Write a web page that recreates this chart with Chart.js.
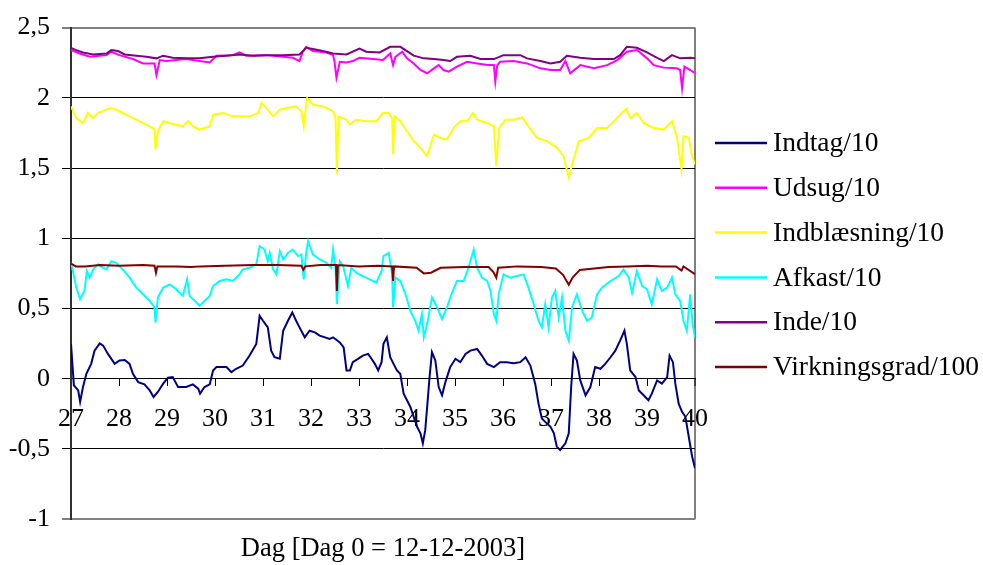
<!DOCTYPE html>
<html>
<head>
<meta charset="utf-8">
<script src="https://cdn.jsdelivr.net/npm/chart.js@4.4.1/dist/chart.umd.min.js"></script>
<style>
  html, body { margin: 0; padding: 0; background: #ffffff; }
  #wrap { width: 983px; height: 565px; }
</style>
</head>
<body>
<div id="wrap"><canvas id="c" width="983" height="565"></canvas></div>
<script>
// ---- tick labels ----
const xTickValues = [27, 28, 29, 30, 31, 32, 33, 34, 35, 36, 37, 38, 39, 40];
const xTickLabels = ['27', '28', '29', '30', '31', '32', '33', '34', '35', '36', '37', '38', '39', '40'];
const yTickValues = [-1, -0.5, 0, 0.5, 1, 1.5, 2, 2.5];
const yTickLabels = ['-1', '-0,5', '0', '0,5', '1', '1,5', '2', '2,5'];
const seriesNames = ['Indtag/10', 'Udsug/10', 'Indblæsning/10', 'Afkast/10', 'Inde/10', 'Virkningsgrad/100'];
const xTitle = 'Dag [Dag 0 = 12-12-2003]';

// ---- Indtag/10 ----
const indtagDays = [27.00,27.06,27.15,27.19,27.25,27.32,27.42,27.49,27.60,27.67,
  27.77,27.91,28.01,28.12,28.22,28.29,28.40,28.53,28.64,28.72,
  28.81,28.92,29.02,29.12,29.23,29.40,29.54,29.65,29.69,29.78,
  29.89,29.96,30.03,30.24,30.34,30.44,30.58,30.72,30.86,30.93,
  31.00,31.10,31.17,31.24,31.35,31.42,31.52,31.61,31.69,31.76,
  31.87,31.97,32.08,32.18,32.39,32.46,32.60,32.68,32.74,32.81,
  32.87,32.98,33.08,33.19,33.26,33.33,33.40,33.47,33.51,33.58,
  33.65,33.72,33.79,33.86,33.93,34.00,34.07,34.14,34.21,34.28,
  34.33,34.38,34.42,34.47,34.52,34.59,34.66,34.73,34.80,34.90,
  35.01,35.11,35.22,35.32,35.46,35.56,35.67,35.81,35.94,36.08,
  36.22,36.36,36.47,36.57,36.67,36.74,36.81,36.88,36.99,37.06,
  37.12,37.19,37.30,37.37,37.42,37.47,37.54,37.61,37.72,37.82,
  37.92,38.03,38.13,38.24,38.34,38.44,38.53,38.58,38.65,38.76,
  38.83,38.93,39.03,39.10,39.21,39.31,39.42,39.47,39.54,39.59,
  39.66,39.73,39.80,39.87,39.94,40.00];
const indtagVals = [0.248,-0.047,-0.083,-0.165,-0.059,0.035,0.106,0.2,0.252,0.236,
  0.177,0.106,0.13,0.134,0.106,0.035,-0.024,-0.04,-0.083,-0.13,
  -0.094,-0.035,0.007,0.012,-0.059,-0.059,-0.04,-0.071,-0.106,-0.059,
  -0.04,0.059,0.083,0.083,0.047,0.071,0.094,0.165,0.248,0.448,
  0.413,0.366,0.2,0.153,0.142,0.342,0.413,0.472,0.413,0.366,
  0.295,0.342,0.33,0.307,0.283,0.295,0.259,0.224,0.059,0.059,
  0.118,0.142,0.165,0.177,0.142,0.106,0.059,0.118,0.248,0.295,
  0.153,0.106,0.059,0.035,-0.106,-0.153,-0.201,-0.271,-0.342,-0.389,
  -0.46,-0.366,-0.2,0.012,0.189,0.13,-0.059,-0.118,-0.024,0.083,
  0.142,0.118,0.177,0.2,0.212,0.165,0.106,0.083,0.118,0.118,
  0.111,0.118,0.153,0.094,-0.035,-0.177,-0.283,-0.307,-0.342,-0.389,
  -0.483,-0.507,-0.46,-0.389,-0.059,0.177,0.13,-0.012,-0.118,-0.059,
  0.083,0.071,0.106,0.153,0.2,0.271,0.342,0.248,0.059,0.012,
  -0.083,-0.118,-0.153,-0.106,-0.012,-0.035,0.012,0.165,0.118,-0.035,
  -0.177,-0.236,-0.271,-0.413,-0.554,-0.637];

// ---- Udsug/10 ----
const udsugDays = [27.00,27.18,27.39,27.74,27.84,28.01,28.29,28.50,28.74,28.78,
  28.85,28.99,29.19,29.40,29.68,29.89,30.03,30.37,30.51,30.65,
  31.07,31.42,31.62,31.76,31.83,31.90,32.04,32.32,32.46,32.49,
  32.53,32.60,32.74,32.87,33.01,33.29,33.50,33.65,33.71,33.76,
  33.90,34.00,34.14,34.28,34.42,34.56,34.66,34.76,34.87,35.04,
  35.25,35.46,35.67,35.81,35.84,35.88,35.94,36.22,36.50,36.78,
  36.99,37.19,37.30,37.40,37.61,37.89,38.17,38.38,38.58,38.79,
  39.00,39.14,39.35,39.62,39.69,39.73,39.78,39.90,40.00];
const udsugVals = [2.34,2.316,2.292,2.304,2.328,2.304,2.276,2.245,2.245,2.163,
  2.269,2.262,2.269,2.276,2.262,2.252,2.3,2.304,2.323,2.3,
  2.304,2.292,2.285,2.262,2.328,2.363,2.333,2.323,2.304,2.257,
  2.144,2.257,2.252,2.262,2.285,2.276,2.269,2.316,2.233,2.292,
  2.328,2.281,2.245,2.198,2.175,2.21,2.233,2.198,2.186,2.222,
  2.257,2.245,2.233,2.233,2.116,2.233,2.257,2.262,2.245,2.21,
  2.198,2.198,2.262,2.175,2.233,2.21,2.233,2.269,2.328,2.34,
  2.281,2.233,2.215,2.21,2.198,2.068,2.222,2.198,2.175];

// ---- Indblæsning/10 ----
const indblDays = [27.00,27.11,27.25,27.35,27.46,27.56,27.81,27.94,28.15,28.43,
  28.64,28.74,28.76,28.81,28.92,29.12,29.33,29.44,29.54,29.68,
  29.89,29.96,30.17,30.37,30.72,30.90,30.97,31.07,31.21,31.35,
  31.49,31.69,31.80,31.85,31.89,31.92,32.04,32.25,32.46,32.51,
  32.54,32.57,32.74,32.81,32.94,33.15,33.36,33.50,33.62,33.69,
  33.71,33.74,33.86,34.00,34.14,34.28,34.42,34.56,34.69,34.83,
  34.97,35.11,35.25,35.37,35.46,35.67,35.81,35.86,35.92,36.05,
  36.22,36.40,36.50,36.71,36.92,37.12,37.26,37.37,37.44,37.58,
  37.78,37.96,38.17,38.31,38.44,38.57,38.65,38.79,38.93,39.14,
  39.35,39.52,39.62,39.72,39.76,39.87,39.94,40.00];
const indblVals = [1.939,1.856,1.821,1.892,1.856,1.892,1.927,1.915,1.88,1.833,
  1.797,1.774,1.632,1.762,1.833,1.814,1.797,1.833,1.797,1.774,
  1.797,1.88,1.892,1.868,1.868,1.892,1.962,1.927,1.868,1.915,
  1.927,1.939,1.903,1.797,1.927,1.998,1.95,1.939,1.903,1.856,
  1.455,1.868,1.844,1.809,1.844,1.833,1.833,1.892,1.892,1.856,
  1.597,1.868,1.833,1.762,1.691,1.644,1.585,1.738,1.715,1.703,
  1.785,1.833,1.833,1.892,1.844,1.821,1.797,1.514,1.785,1.844,
  1.844,1.861,1.809,1.715,1.691,1.644,1.585,1.432,1.526,1.691,
  1.715,1.785,1.785,1.833,1.88,1.922,1.856,1.892,1.821,1.785,
  1.774,1.833,1.726,1.491,1.726,1.715,1.585,1.526];

// ---- Afkast/10 ----
const afkastDays = [27.00,27.04,27.11,27.19,27.28,27.33,27.39,27.46,27.56,27.67,
  27.74,27.84,27.94,28.08,28.22,28.36,28.50,28.64,28.74,28.76,
  28.81,28.92,29.06,29.19,29.33,29.42,29.47,29.58,29.68,29.78,
  29.89,29.96,30.10,30.24,30.37,30.51,30.58,30.72,30.86,30.93,
  31.03,31.10,31.14,31.21,31.28,31.35,31.42,31.52,31.62,31.73,
  31.80,31.85,31.90,31.94,32.04,32.18,32.32,32.42,32.46,32.51,
  32.54,32.60,32.67,32.77,32.84,32.94,33.08,33.22,33.36,33.47,
  33.51,33.62,33.69,33.71,33.76,33.86,33.97,34.07,34.17,34.24,
  34.31,34.35,34.42,34.52,34.63,34.73,34.83,34.94,35.04,35.18,
  35.28,35.39,35.46,35.56,35.67,35.74,35.81,35.86,35.91,36.01,
  36.15,36.29,36.43,36.53,36.64,36.74,36.81,36.88,36.95,37.02,
  37.09,37.16,37.23,37.30,37.37,37.44,37.54,37.65,37.75,37.85,
  37.96,38.06,38.24,38.41,38.51,38.62,38.69,38.79,38.90,39.00,
  39.10,39.21,39.31,39.42,39.52,39.59,39.69,39.76,39.83,39.90,
  39.95,40.00];
const afkastVals = [0.825,0.766,0.649,0.566,0.625,0.766,0.72,0.778,0.814,0.79,
  0.778,0.837,0.825,0.778,0.72,0.649,0.601,0.554,0.507,0.4,
  0.578,0.649,0.672,0.637,0.59,0.708,0.59,0.554,0.519,0.554,
  0.59,0.66,0.696,0.708,0.696,0.743,0.778,0.79,0.814,0.943,
  0.92,0.837,0.896,0.778,0.743,0.908,0.849,0.896,0.92,0.873,
  0.884,0.708,0.896,0.979,0.884,0.849,0.825,0.79,0.92,0.79,
  0.53,0.837,0.802,0.66,0.79,0.755,0.731,0.708,0.684,0.766,
  0.873,0.896,0.743,0.507,0.72,0.696,0.601,0.483,0.413,0.342,
  0.46,0.295,0.389,0.578,0.507,0.425,0.507,0.613,0.696,0.696,
  0.79,0.92,0.79,0.72,0.696,0.625,0.46,0.413,0.601,0.743,
  0.72,0.731,0.743,0.649,0.53,0.413,0.366,0.53,0.366,0.578,
  0.625,0.436,0.578,0.342,0.271,0.507,0.601,0.483,0.413,0.436,
  0.601,0.649,0.696,0.731,0.778,0.72,0.613,0.766,0.66,0.637,
  0.53,0.708,0.625,0.649,0.72,0.601,0.554,0.413,0.342,0.601,
  0.389,0.295];

// ---- Inde/10 ----
const indeDays = [27.00,27.11,27.25,27.46,27.74,27.84,27.98,28.12,28.36,28.57,
  28.78,28.92,29.12,29.40,29.68,29.96,30.24,30.51,30.79,31.07,
  31.42,31.76,31.90,32.04,32.25,32.46,32.74,33.01,33.15,33.43,
  33.65,33.86,34.00,34.14,34.35,34.56,34.76,34.90,35.04,35.32,
  35.53,35.81,36.01,36.36,36.50,36.78,36.99,37.19,37.33,37.61,
  37.89,38.31,38.44,38.58,38.79,39.00,39.21,39.35,39.52,39.69,
  39.90,40.00];
const indeVals = [2.356,2.34,2.323,2.309,2.316,2.34,2.333,2.309,2.3,2.292,
  2.281,2.3,2.285,2.281,2.281,2.292,2.3,2.309,2.3,2.304,
  2.304,2.309,2.356,2.347,2.333,2.316,2.309,2.351,2.328,2.323,
  2.363,2.363,2.333,2.3,2.281,2.276,2.269,2.262,2.292,2.3,
  2.276,2.276,2.304,2.304,2.281,2.262,2.245,2.257,2.3,2.285,
  2.276,2.276,2.304,2.363,2.356,2.323,2.285,2.262,2.304,2.281,
  2.285,2.281];

// ---- Virkningsgrad/100 ----
const virkDays = [27.00,27.10,27.30,27.60,28.00,28.50,28.74,28.77,28.80,29.20,
  29.50,29.70,30.20,30.80,31.30,31.80,31.84,31.88,32.20,32.52,
  32.54,32.56,33.00,33.40,33.69,33.71,33.73,34.20,34.35,34.50,
  34.70,35.20,35.70,35.80,35.86,35.90,36.30,36.80,37.10,37.25,
  37.37,37.45,37.60,37.90,38.20,38.60,39.00,39.30,39.60,39.72,
  39.76,40.00];
const virkVals = [0.82,0.80,0.80,0.81,0.805,0.81,0.805,0.755,0.80,0.80,
  0.795,0.80,0.805,0.81,0.81,0.805,0.775,0.80,0.81,0.81,
  0.625,0.81,0.80,0.805,0.80,0.696,0.80,0.79,0.75,0.755,
  0.79,0.795,0.795,0.76,0.72,0.79,0.80,0.795,0.785,0.74,
  0.67,0.72,0.775,0.785,0.795,0.80,0.805,0.80,0.80,0.77,
  0.80,0.745];

const colors = ['#000080', '#FF00FF', '#FFFF00', '#00FFFF', '#800080', '#800000'];
const drawOrder = [6, 5, 4, 3, 2, 1];

function pts(days, vals) {
  return days.map((d, i) => ({ x: d, y: vals[i] }));
}
const seriesData = [
  pts(indtagDays, indtagVals),
  pts(udsugDays, udsugVals),
  pts(indblDays, indblVals),
  pts(afkastDays, afkastVals),
  pts(indeDays, indeVals),
  pts(virkDays, virkVals)
];

const FONT = "'Liberation Serif', 'Times New Roman', serif";
const GRAY = '#808080';

// Legend drawn at the right, Excel style (line sample + text)
const sideLegend = {
  id: 'sideLegend',
  afterDraw(chart) {
    const ctx = chart.ctx;
    const ds = chart.data.datasets;
    ctx.save();
    ctx.font = '27.5px ' + FONT;
    ctx.textAlign = 'left';
    ctx.textBaseline = 'middle';
    ds.forEach((d, i) => {
      const y = 143 + i * 44.8;
      ctx.strokeStyle = d.borderColor;
      ctx.lineWidth = 2.5;
      ctx.beginPath();
      ctx.moveTo(715, y);
      ctx.lineTo(767, y);
      ctx.stroke();
      ctx.fillStyle = '#000';
      ctx.fillText(d.label, 773, y + 1);
    });
    ctx.restore();
  }
};

new Chart(document.getElementById('c'), {
  type: 'line',
  data: {
    datasets: seriesNames.map((name, i) => ({
      label: name,
      data: seriesData[i],
      borderColor: colors[i],
      backgroundColor: colors[i],
      borderWidth: 2,
      pointRadius: 0,
      tension: 0,
      fill: false,
      order: drawOrder[i]
    }))
  },
  plugins: [sideLegend],
  options: {
    responsive: false,
    animation: false,
    events: [],
    layout: { padding: { left: 8, top: 25, right: 288, bottom: 0 } },
    scales: {
      x: {
        type: 'linear',
        min: 27,
        max: 40,
        position: { y: 0 },
        afterFit: (s) => { s.height = 0; },
        ticks: {
          stepSize: 1,
          autoSkip: false,
          maxRotation: 0,
          padding: 18,
          color: '#000',
          font: { family: FONT, size: 26 },
          callback: (v) => {
            const k = xTickValues.indexOf(Math.round(v));
            return k >= 0 ? xTickLabels[k] : '';
          }
        },
        grid: {
          drawOnChartArea: true,
          color: (ctx) => (ctx.tick && Math.round(ctx.tick.value) === 40) ? GRAY : 'rgba(0,0,0,0)',
          lineWidth: (ctx) => (ctx.tick && Math.round(ctx.tick.value) === 40) ? 2 : 1,
          tickColor: '#000',
          tickLength: 7,
          tickWidth: 1
        },
        border: { display: true, color: '#000', width: 1 }
      },
      y: {
        type: 'linear',
        min: -1,
        max: 2.5,
        afterFit: (s) => { s.width = 63; },
        ticks: {
          stepSize: 0.5,
          padding: 12,
          color: '#000',
          font: { family: FONT, size: 26 },
          callback: (v) => {
            const k = yTickValues.findIndex(t => Math.abs(t - v) < 1e-6);
            return k >= 0 ? yTickLabels[k] : '';
          }
        },
        grid: {
          color: (ctx) => {
            const v = ctx.tick ? ctx.tick.value : 0;
            return (Math.abs(v + 1) < 1e-6 || Math.abs(v - 2.5) < 1e-6) ? GRAY : '#000';
          },
          lineWidth: (ctx) => {
            const v = ctx.tick ? ctx.tick.value : 0;
            return (Math.abs(v + 1) < 1e-6 || Math.abs(v - 2.5) < 1e-6) ? 2 : 1;
          },
          tickColor: '#000',
          tickLength: 9,
          tickWidth: 1
        },
        border: { display: true, color: '#303030', width: 2 }
      }
    },
    plugins: {
      legend: { display: false },
      title: {
        display: true,
        text: xTitle,
        position: 'bottom',
        fullSize: false,
        color: '#000',
        font: { family: FONT, size: 26.5, weight: 'normal' },
        padding: { top: 14, bottom: 0 }
      },
      tooltip: { enabled: false }
    }
  }
});
</script>
</body>
</html>
